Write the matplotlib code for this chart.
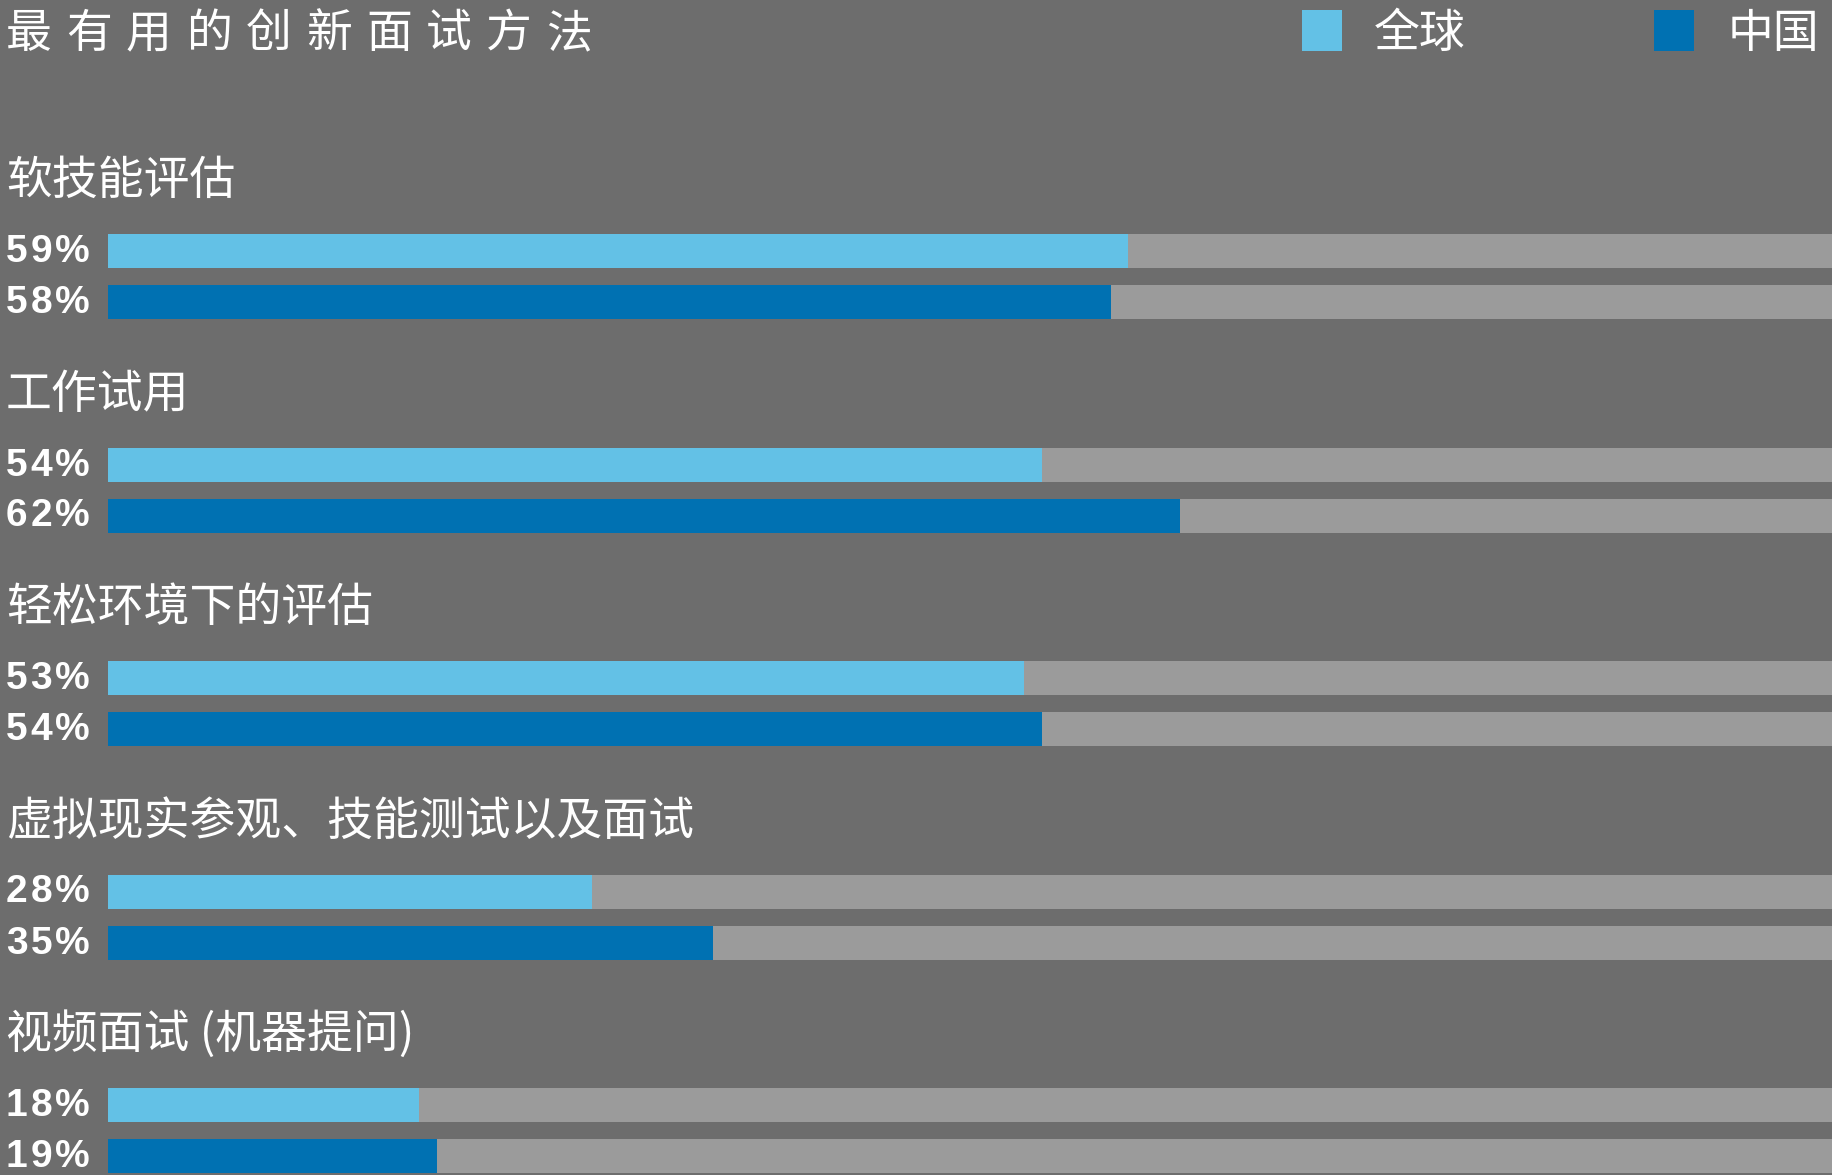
import numpy as np
import matplotlib.pyplot as plt
import matplotlib.transforms as mtransforms
from matplotlib.patches import Rectangle

# chart data
title = "最有用的创新面试方法"
categories = ["软技能评估", "工作试用", "轻松环境下的评估",
              "虚拟现实参观、技能测试以及面试", "视频面试 (机器提问)"]
series_names = ["全球", "中国"]
global_vals = [59, 54, 53, 28, 18]
china_vals = [58, 62, 54, 35, 19]

bg = "#6d6d6d"
track = "#9b9b9b"
colors = ["#63c1e6", "#0071b2"]
cjk = ["Noto Sans CJK SC", "DejaVu Sans"]

W, H = 1833, 1175
fig = plt.figure(figsize=(W / 100, H / 100), dpi=100, facecolor=bg)

# axes: y in pixel rows (top=0), x in percent; 0% at x=108px, 100% at ~1837px
left = 108 / W
ax = fig.add_axes([left, 0, 1729 / W, 1], facecolor=bg)
ax.set_xlim(0, 100)
ax.set_ylim(H, 0)
ax.axis("off")

group_gap = 213.5
first_bar = 251
bar_gap = 51
bar_h = 34

label_tf = mtransforms.blended_transform_factory(fig.transFigure, ax.transData)


def spaced_text(x_px, y, s, step, tf, **kw):
    # letter-spaced text, one glyph at a time
    for k, ch in enumerate(s):
        ax.text((x_px + k * step) / W, y, ch, transform=tf, **kw)


for i, cat in enumerate(categories):
    y0 = first_bar + i * group_gap
    ax.text(6 / W, y0 - 70, cat, transform=label_tf, color="white",
            fontsize=33, family=cjk, va="center", ha="left")
    for j, vals in enumerate([global_vals, china_vals]):
        y = y0 + j * bar_gap
        ax.barh(y, 100, height=bar_h, color=track, linewidth=0)
        ax.barh(y, vals[i], height=bar_h, color=colors[j], linewidth=0)
        spaced_text(6, y + 1, f"{vals[i]}%", 24.5, label_tf, color="white",
                    fontsize=28, fontweight="bold", family="Liberation Sans",
                    va="center", ha="left")

# title, letter-spaced
for k, ch in enumerate(title):
    fig.text((6 + k * 60) / W, 1 - 34 / H, ch, color="white", fontsize=33,
             family=cjk, va="center", ha="left")

# legend
for name, c, sx, tx in zip(series_names, colors, [1302, 1654], [1374, 1728]):
    fig.patches.append(Rectangle((sx / W, 1 - 51 / H), 40 / W, 41 / H,
                                 transform=fig.transFigure, color=c, linewidth=0))
    fig.text(tx / W, 1 - 34 / H, name, color="white", fontsize=33,
             family=cjk, va="center", ha="left")

fig.savefig("out.png", dpi=100, facecolor=bg)
